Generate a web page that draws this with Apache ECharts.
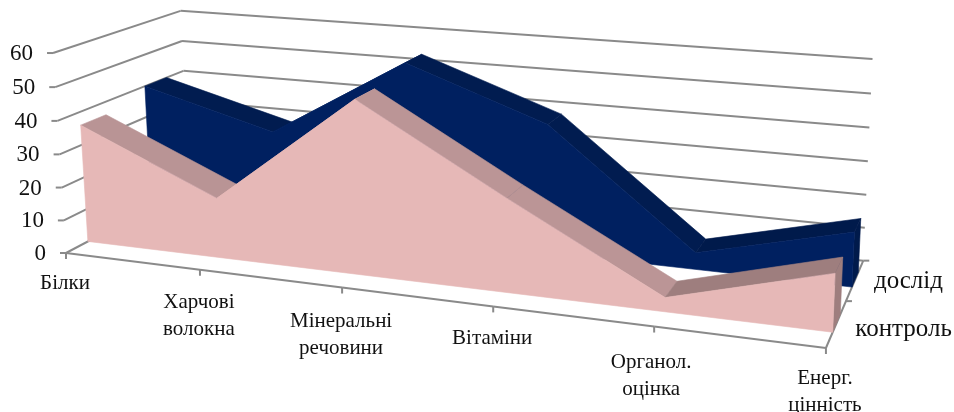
<!DOCTYPE html>
<html>
<head>
<meta charset="utf-8">
<style>
	html, body { margin: 0; padding: 0; background: #fff; }
	#chart { width: 954px; height: 412px; }
</style>
<script src="https://cdn.jsdelivr.net/npm/echarts@6/dist/echarts.min.js"></script>
</head>
<body>
<div id="chart"></div>
<script>
const categories = ["Білки", "Харчові\nволокна", "Мінеральні\nречовини", "Вітаміни", "Органол.\nоцінка", "Енерг.\nцінність"];
const control = [36, 18, 51, 27, 4, 16];
const experiment = [40, 29, 54, 39, 5, 16];
const valueTicks = [0, 10, 20, 30, 40, 50, 60];
const seriesNames = ["контроль", "дослід"];

// perspective view of the unit box (u along categories, v up, w into the page)
const VIEW = {
	d: [66, 253],
	a: [641, 44.9],
	b: [-14.4, -201.4],
	c: [148.5, -39.6],
	g: -0.144,
	h: -0.027,
	i: 0.135
};

// how far each category label hangs below its tick
const LABEL_DROP = [17, 19, 20, 19, 22, 17];
const NAME_SHIFT = [4, -1];

function project(u, v, w) {
	const den = 1 + VIEW.g * u + VIEW.h * v + VIEW.i * w;
	return [0, 1].map(k => (VIEW.d[k] + VIEW.a[k] * u + VIEW.b[k] * v + VIEW.c[k] * w) / den);
}

// value space -> unit box, through the hidden cartesian axes
function toUnit(params, api, cat, val) {
	const p = api.coord([cat, val]);
	const r = params.coordSys;
	return [(p[0] - r.x) / r.width, 1 - (p[1] - r.y) / r.height];
}

const GRID_COLOR = "#8a8a8a";
const TEXT_COLOR = "#111";
const FONT = '"Liberation Serif", "Times New Roman", serif';

function seg(a, b, z) {
	return {
		type: "line",
		shape: { x1: a[0], y1: a[1], x2: b[0], y2: b[1] },
		style: { stroke: GRID_COLOR, lineWidth: 2 },
		z2: z || 0
	};
}

function renderValueGrid(params, api) {
	const val = api.value(1);
	const v = toUnit(params, api, 0, val)[1];
	const front = project(0, v, 0);
	const back = project(0, v, 1);
	const right = project(1, v, 1);
	return {
		type: "group",
		children: [
			seg(front, back),
			seg(back, right),
			seg([front[0] - 6, front[1]], front),
			{
				type: "text",
				style: {
					x: front[0] - 20, y: front[1] + 1,
					text: String(val),
					font: "23px " + FONT,
					fill: TEXT_COLOR,
					align: "right",
					verticalAlign: "middle"
				}
			}
		]
	};
}

function renderCategoryAxis(params, api) {
	const i = api.value(0);
	const u = toUnit(params, api, i, 0)[0];
	const p = project(u, 0, 0);
	const children = [
		seg(p, [p[0], p[1] + 6], 1),
		{
			type: "text",
			style: {
				x: p[0] - 1 - (i === 4 ? 2 : 0), y: p[1] + LABEL_DROP[i],
				text: categories[i],
				font: "21px " + FONT,
				lineHeight: 27,
				fill: TEXT_COLOR,
				align: "center",
				verticalAlign: "top"
			}
		}
	];
	if (i < categories.length - 1) {
		const nextU = toUnit(params, api, i + 1, 0)[0];
		children.push(seg(p, project(nextU, 0, 0), 1));
	}
	return { type: "group", children };
}

function renderFloorSide(params, api) {
	const a = project(1, 0, 0);
	const m = project(1, 0, 0.5);
	const b = project(1, 0, 1);
	const children = [seg(a, b, 1), seg(m, [m[0] + 6, m[1]], 1), seg(b, [b[0] + 6, b[1]], 1)];
	seriesNames.forEach((name, k) => {
		const p = project(1, 0, k === 0 ? 0.25 : 0.75);
		children.push({
			type: "text",
			style: {
				x: p[0] + 19, y: p[1] + 2 + NAME_SHIFT[k],
				text: name,
				font: "25px " + FONT,
				fill: TEXT_COLOR,
				align: "left",
				verticalAlign: "middle"
			}
		});
	});
	return { type: "group", children };
}

function poly(points, fill, z) {
	return {
		type: "polygon",
		shape: { points },
		style: { fill, stroke: fill, lineWidth: 0.6 },
		z2: z
	};
}

// top strip per segment; the last point also draws the end and the whole front
function areaRenderer(w0, w1, look) {
	return function (params, api) {
		const i = params.dataIndex;
		const last = categories.length - 1;
		const a = toUnit(params, api, i, api.value(1));
		const children = [];
		if (i < last) {
			const b = toUnit(params, api, i + 1, api.value(1, i + 1));
			children.push(poly([
				project(a[0], a[1], w0), project(a[0], a[1], w1), project(b[0], b[1], w1), project(b[0], b[1], w0)
			], look.top[i], 2));
		} else {
			children.push(poly([
				project(a[0], 0, w0), project(a[0], a[1], w0), project(a[0], a[1], w1), project(a[0], 0, w1)
			], look.side, 1));
			const front = [];
			for (let k = 0; k <= last; k++) {
				const t = toUnit(params, api, k, api.value(1, k));
				if (k === 0) front.push(project(t[0], 0, w0));
				front.push(project(t[0], t[1], w0));
			}
			front.push(project(a[0], 0, w0));
			children.push(poly(front, look.front, 3));
		}
		return { type: "group", children };
	};
}

const pinkLook = {
	front: "#e6b8b7",
	top: ["#b99495", "#e6b8b7", "#bb9596", "#bb9596", "#9e7e7e"],
	side: "#9e7e7e"
};
const navyLook = {
	front: "#002060",
	top: ["#011c50", "#002060", "#011c50", "#011c50", "#001a4b"],
	side: "#001a4b"
};

function customSeries(data, renderItem, z) {
	return {
		type: "custom",
		data,
		renderItem,
		encode: { x: 0, y: 1 },
		clip: false,
		silent: true,
		z
	};
}

const chart = echarts.init(document.getElementById("chart"));
chart.setOption({
	animation: false,
	backgroundColor: "#fff",
	tooltip: { show: false },
	grid: { left: 0, right: 0, top: 0, bottom: 0 },
	xAxis: { type: "category", data: categories, boundaryGap: false, show: false },
	yAxis: { type: "value", min: 0, max: 60, interval: 10, show: false },
	series: [
		customSeries(valueTicks.map(v => [0, v]), renderValueGrid, 1),
		customSeries(categories.map((_, i) => [i, 0]), renderCategoryAxis, 2),
		customSeries([[0, 0]], renderFloorSide, 2),
		customSeries(experiment.map((v, i) => [i, v]), areaRenderer(0.666, 0.85, navyLook), 3),
		customSeries(control.map((v, i) => [i, v]), areaRenderer(0.16, 0.35, pinkLook), 4)
	]
});
</script>
</body>
</html>
